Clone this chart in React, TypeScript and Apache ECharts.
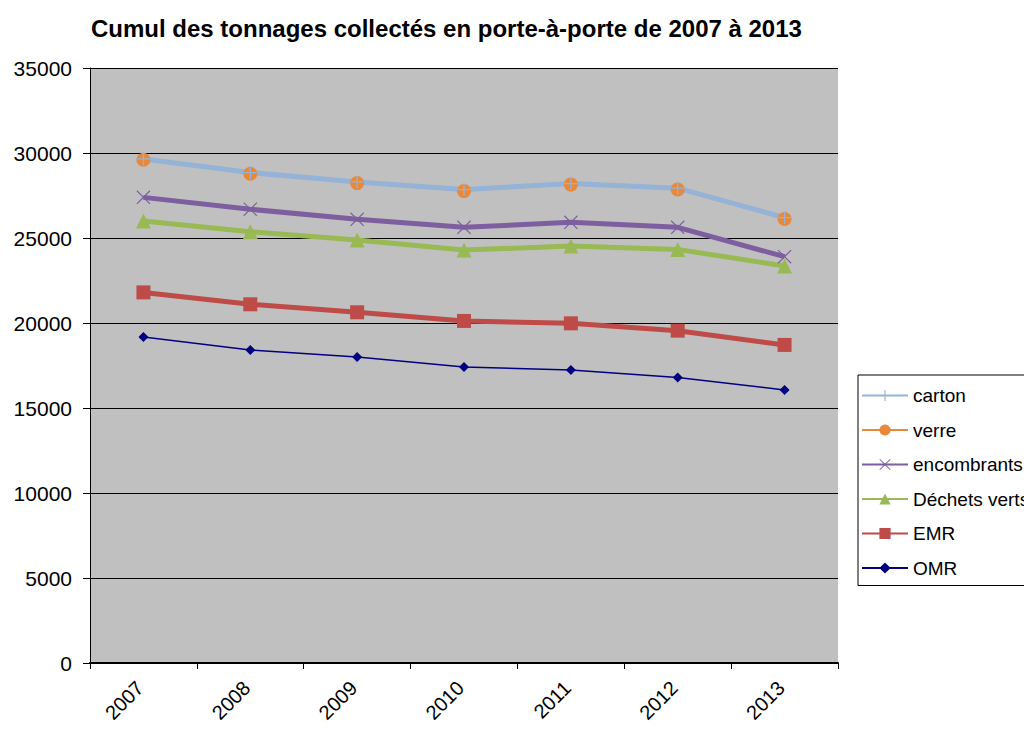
import React, { useEffect, useRef } from "react";
import * as echarts from "echarts";

// Cumulated tonnages per year (each series includes those below it)
const years = ["2007", "2008", "2009", "2010", "2011", "2012", "2013"];
const carton = [29650, 28850, 28300, 27850, 28200, 27930, 26200];
const verre = [29600, 28780, 28230, 27760, 28140, 27850, 26120];
const encombrants = [27390, 26690, 26100, 25630, 25920, 25630, 23900];
const dechetsVerts = [26000, 25370, 24880, 24290, 24530, 24330, 23350];
const emr = [21800, 21100, 20630, 20120, 19980, 19550, 18710];
const omr = [19180, 18410, 18000, 17410, 17240, 16800, 16060];
const legendOrder = ["carton", "verre", "encombrants", "Déchets verts", "EMR", "OMR"];

const FONT = "Liberation Sans, Arial, sans-serif";

const plusSymbol = "path://M9,0 H11 V9 H20 V11 H11 V20 H9 V11 H0 V9 H9 Z";
const crossSymbol =
  "path://M0,1.2 L1.2,0 L10,8.8 L18.8,0 L20,1.2 L11.2,10 L20,18.8 L18.8,20 L10,11.2 L1.2,20 L0,18.8 L8.8,10 Z";

export default function App() {
  const ref = useRef<HTMLDivElement>(null);

  useEffect(() => {
    if (!ref.current) return;
    const chart = echarts.init(ref.current, null, { renderer: "svg" });

    const line = (
      name: string,
      data: number[],
      color: string,
      width: number,
      symbol: string,
      size: number
    ) => ({
      name,
      type: "line",
      data,
      symbol,
      symbolSize: size,
      showSymbol: true,
      lineStyle: { color, width },
      itemStyle: { color, borderWidth: 0 },
      emphasis: { disabled: true },
    });

    chart.setOption({
      animation: false,
      backgroundColor: "#ffffff",
      title: {
        text: "Cumul des tonnages collectés en porte-à-porte de 2007 à 2013",
        left: 86,
        top: 11,
        textStyle: { fontFamily: FONT, fontSize: 24, fontWeight: "bold", color: "#000" },
      },
      grid: {
        left: 90,
        right: 194,
        top: 68,
        bottom: 66,
        outerBoundsMode: "none",
        containLabel: false,
        show: true,
        backgroundColor: "#c0c0c0",
        borderWidth: 0,
      },
      legend: {
        data: legendOrder,
        orient: "vertical",
        left: 858,
        top: 375,
        padding: [11, 30, 8, 3],
        itemGap: 15.5,
        itemWidth: 46,
        itemHeight: 14,
        borderColor: "#000",
        borderWidth: 1,
        textStyle: { fontFamily: FONT, fontSize: 19, color: "#000" },
      },
      xAxis: {
        type: "category",
        data: years,
        boundaryGap: true,
        axisLine: { show: true, lineStyle: { color: "#000", width: 2 } },
        axisTick: { show: true, alignWithLabel: false, length: 6, lineStyle: { color: "#000" } },
        axisLabel: {
          rotate: 45,
          margin: 18,
          padding: [0, 5, 0, 0],
          fontFamily: FONT,
          fontSize: 20,
          color: "#000",
        },
        splitLine: { show: false },
      },
      yAxis: {
        type: "value",
        min: 0,
        max: 35000,
        interval: 5000,
        axisLine: { show: true, lineStyle: { color: "#000", width: 1 } },
        axisTick: { show: true, length: 7, lineStyle: { color: "#000" } },
        axisLabel: {
          margin: 18,
          fontFamily: FONT,
          fontSize: 21,
          color: "#000",
          formatter: (v: number) => String(v),
        },
        splitLine: { show: true, lineStyle: { color: "#000", width: 1 } },
      },
      series: [
        line("OMR", omr, "#000080", 1.5, "diamond", 10),
        line("EMR", emr, "#be4b48", 5, "rect", 14),
        line("Déchets verts", dechetsVerts, "#98b954", 5, "triangle", 15),
        line("encombrants", encombrants, "#7d5fa0", 5, crossSymbol, 14),
        line("verre", verre, "#e8893a", 1.5, "circle", 14),
        line("carton", carton, "#95b3d7", 5, plusSymbol, 13),
      ],
    });

    return () => chart.dispose();
  }, []);

  return <div ref={ref} style={{ width: 1032, height: 729, margin: -8 }} />;
}
